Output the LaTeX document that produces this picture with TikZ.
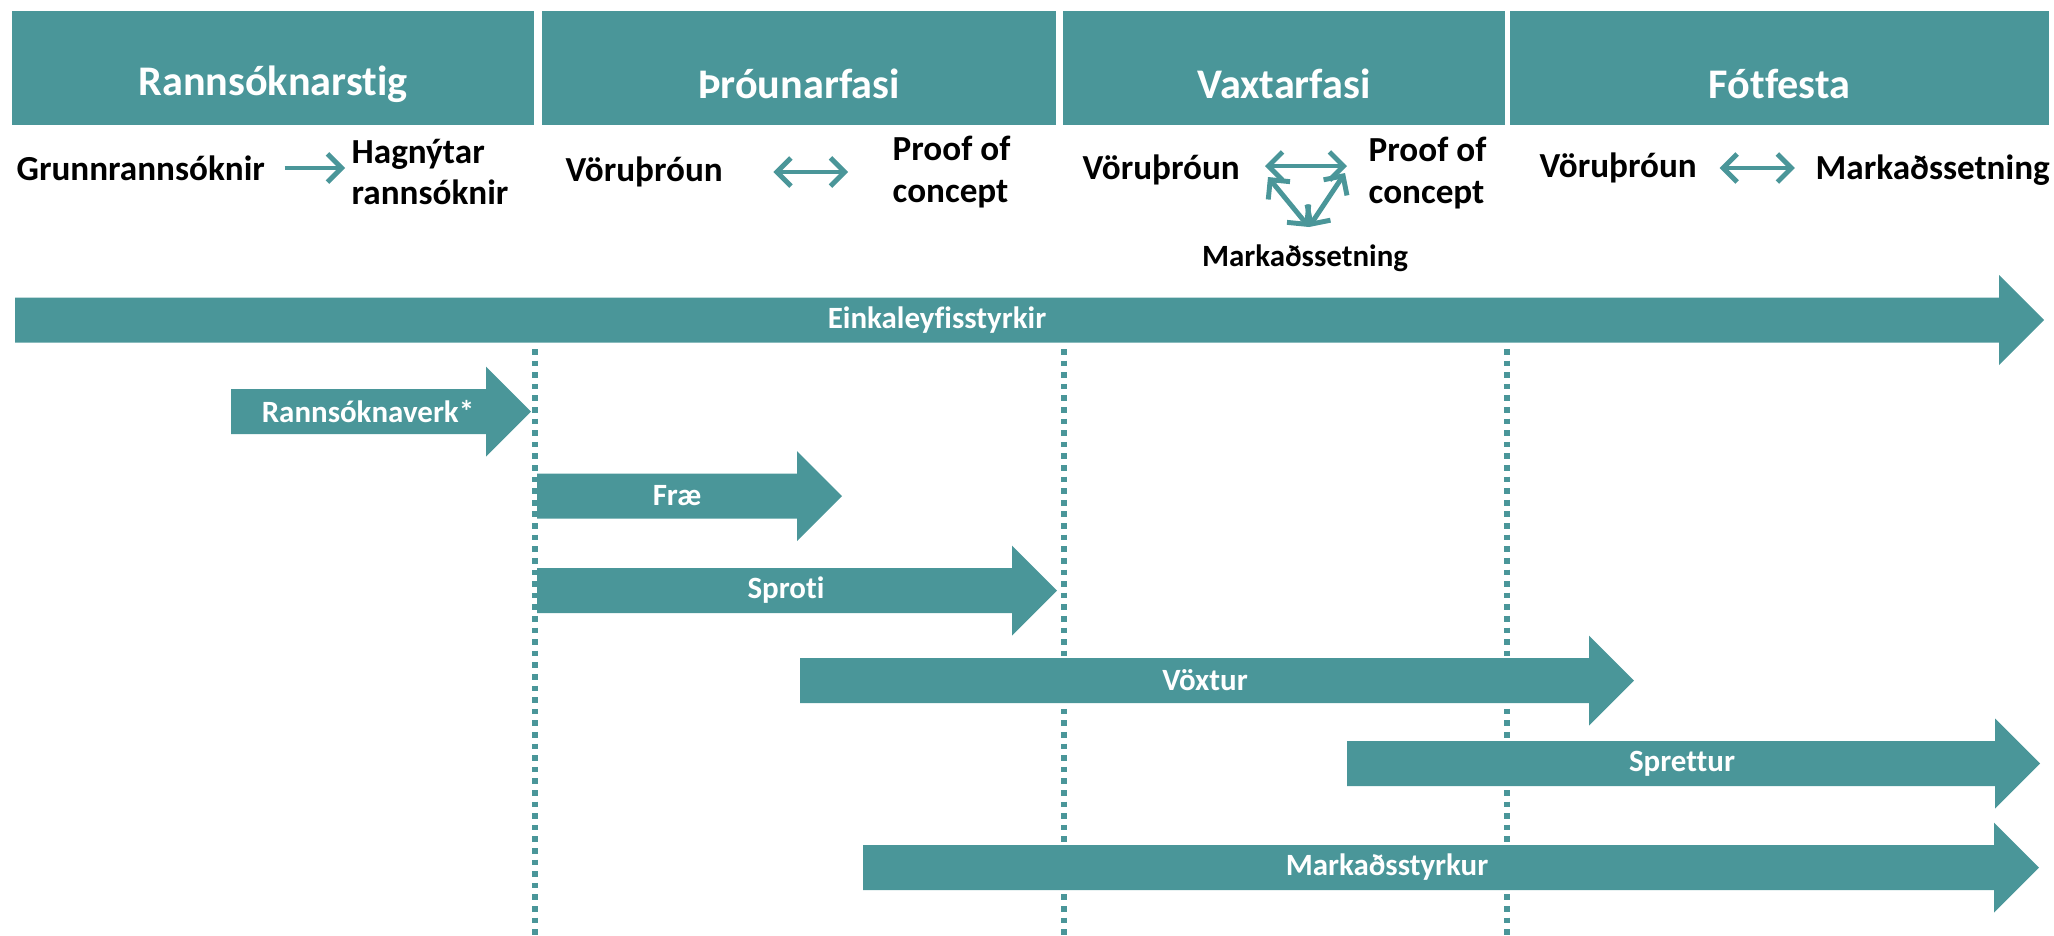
\documentclass[tikz,border=0pt]{standalone}
\usepackage{fontspec}
\setmainfont{Carlito}[Ligatures=NoCommon]
\usepackage{tikz}
\usetikzlibrary{arrows.meta}
\usetikzlibrary{calc}
\definecolor{phase}{RGB}{74,150,153}

\begin{document}
\begin{tikzpicture}[x=0.01cm, y=-0.01cm,
		head/.style={text=white, font=\fontsize{12}{14}\selectfont\bfseries},
		txt/.style={inner sep=0pt, align=left, font=\fontsize{10}{11.7}\selectfont\bfseries},
		lbl/.style={text=white, font=\fontsize{8.8}{10}\selectfont\bfseries},
		link/.style={phase, line width=1.4pt, -{Straight Barb[length=4pt,width=8pt]}},
		links/.style={phase, line width=1.4pt, {Straight Barb[length=4pt,width=8pt]}-{Straight Barb[length=4pt,width=8pt]}},
		guide/.style={phase, line width=1.6pt, dash pattern=on 1.6pt off 1.7pt}]
		\useasboundingbox (0,0) rectangle (2054,935);
		\foreach \x in {535,1064,1507}{
				\draw[guide] (\x,349)--(\x,935);
		}
		\foreach \m/\a/\b/\c in{
				1/12/534/Rannsóknarstig,
				2/542/1056/Þróunarfasi,
				3/1063/1505/Vaxtarfasi,
				4/1510/2049/Fótfesta
		}{
		\pgfmathsetmacro{\cm}{0.5*(\a+\b)}
		\fill[phase] (\a,11) rectangle (\b,125);
		\node[head] (H\m) at (\cm,84) {\c};
		}
		\node[txt, anchor=west] (grunn) at (16,168) {Grunnrannsóknir};
		\node[txt, anchor=west] (hagn) at (351,172) {Hagnýtar\\rannsóknir};
		\node[txt, anchor=west] (vorA) at (565,172) {Vöruþróun};
		\node[txt, anchor=west] (proofA) at (892,172) {Proof of\\concept};
		\node[txt, anchor=west] (vorB) at (1082,170) {Vöruþróun};
		\node[txt, anchor=west] (proofB) at (1368,173) {Proof of\\concept};
		\node[txt, font=\fontsize{8.8}{10}\selectfont\bfseries] (markB) at (1305,258) {Markaðssetning};
		\node[txt, anchor=west] (vorC) at (1539,168) {Vöruþróun};
		\node[txt, anchor=west] (markC) at (1815,170) {Markaðssetning};

		\draw[link, shorten <=5.4pt, shorten >=1.7pt] (grunn.east)--(grunn.east -| hagn.west);
		\draw[links, shorten <=14.2pt, shorten >=12.5pt] (vorA.east)--(vorA.east -| proofA.west);
		\draw[links, shorten <=6.3pt, shorten >=5.7pt] (vorC.east)--(vorC.east -| markC.west);

		\coordinate (vl) at (1265,166);
		\coordinate (vr) at (1347,166);
		\coordinate (vb) at (1309,227);
		\draw[links] (vl)--(vr);
		\draw[links] ($(vl)+(3,11)$)--(vb);
		\draw[links] ($(vr)+(-2,7)$)--(vb);

		\foreach \n/\a/\t/\y/\l/\c in{
				ein/15/2044/320/937/Einkaleyfisstyrkir,
				rann/231/531/411.5/368/Rannsóknaverk*,
				frae/537/842/496/677/Fræ,
				sproti/537/1057/590.5/786/Sproti,
				voxt/800/1634/680.5/1205/Vöxtur,
				spret/1347/2040/763.5/1682/Sprettur,
				mstyrk/863/2039/867.5/1387/Markaðsstyrkur
		}{
		\pgfmathsetmacro{\h}{\t-45}
		\pgfmathsetmacro{\ya}{\y-22.5}
		\pgfmathsetmacro{\yb}{\y+22.5}
		\pgfmathsetmacro{\yc}{\y-45}
		\pgfmathsetmacro{\yd}{\y+45}
		\fill[phase] (\a,\ya)--(\h,\ya)--(\h,\yc)--(\t,\y)--(\h,\yd)--(\h,\yb)--(\a,\yb)--cycle;
		\node[lbl] (\n) at (\l,\y) {\c};
		}
\end{tikzpicture}
\end{document}
